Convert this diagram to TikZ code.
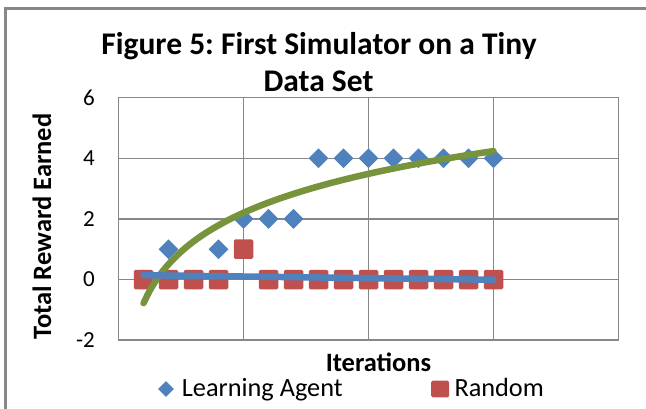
\documentclass[tikz,border=0pt]{standalone}
\usepackage{fontspec}
\setmainfont{Carlito}
\frenchspacing
\usetikzlibrary{shapes.geometric}
\definecolor{serA}{HTML}{4F81BD}
\definecolor{serB}{HTML}{C0504D}
\definecolor{trendA}{HTML}{77933C}
\definecolor{gridgray}{HTML}{878787}
\begin{document}
\begin{tikzpicture}[x=1pt,y=-1pt,
  every node/.style={inner sep=0pt},
  ttl/.style={font=\bfseries\fontsize{31.5}{37}\selectfont, anchor=base},
  ticklab/.style={font=\fontsize{23}{27}\selectfont, anchor=east},
  axttl/.style={font=\bfseries\fontsize{26.5}{31}\selectfont},
  legtxt/.style={font=\fontsize{26.3}{31}\selectfont, anchor=base west},
  gridln/.style={draw=gridgray, line width=1.5pt},
  diam/.style={diamond, aspect=1, fill=serA, minimum width=20pt, minimum height=20pt},
  sq/.style={rectangle, fill=serB, rounded corners=1.5pt, minimum size=19.5pt},
  trend/.style={line width=6.5pt, line cap=round, line join=round}]
\useasboundingbox (0,0) rectangle (646,408);
% chart frame
\draw[gridgray, line width=3pt] (5.5,420) -- (5.5,8.5) -- (660,8.5);
% title
\node[ttl] (title1) at (319,54.3) {Figure 5: First Simulator on a Tiny};
\node[ttl] (title2) at (318.5,91.7) {Data Set};
% value axis labels
\node[ticklab] (y6) at (95,97.7) {6};
\node[ticklab] (y4) at (95,158.3) {4};
\node[ticklab] (y2) at (95,218.9) {2};
\node[ticklab] (y0) at (95,279.5) {0};
\node[ticklab] (ym2) at (95,340.1) {-2};
\node[axttl, rotate=90, anchor=base] (ytitle) at (51,226.7) {Total Reward Earned};
\node[axttl, anchor=base] (xtitle) at (378.5,371.7) {Iterations};
% legend
\node[diam, minimum width=16pt, minimum height=16pt] (legA) at (166,389) {};
\node[legtxt] (legAtxt) at (181.7,396.7) {Learning Agent};
\node[sq, minimum width=18pt, minimum height=16.6pt] (legB) at (440.2,389) {};
\node[legtxt] (legBtxt) at (454.3,396.7) {Random};
% plot area in data coordinates
\begin{scope}[shift={(118.5,279.5)}, x=25pt, y=30.3pt]
  \foreach \gx in {5,10,15} \draw[gridln] (\gx,-2) -- (\gx,6);
  \foreach \gy in {0,2,4} \draw[gridln] (0,\gy) -- (20,\gy);
  \draw[gridln] (0,-2) rectangle (20,6);
  % Learning Agent
  \foreach \i/\v in {1/0,2/1,3/0,4/1,5/2,6/2,7/2,8/4,9/4,10/4,11/4,12/4,13/4,14/4,15/4}
    \node[diam] (la\i) at (\i,\v) {};
  % Random
  \foreach \i/\v in {1/0,2/0,3/0,4/0,5/1,6/0,7/0,8/0,9/0,10/0,11/0,12/0,13/0,14/0,15/0}
    \node[sq] (rd\i) at (\i,\v) {};
  % logarithmic trend of Learning Agent
  \draw[trend, trendA] plot[domain=1:15, samples=60, smooth] (\x,{-0.7817+1.854*ln(\x)});
  % linear trend of Random
  \coordinate (rs) at (1,0.1417);
  \coordinate (re) at (15,-0.0083);
  \draw[trend, serA] (rs) -- (re);
\end{scope}
\end{tikzpicture}
\end{document}
